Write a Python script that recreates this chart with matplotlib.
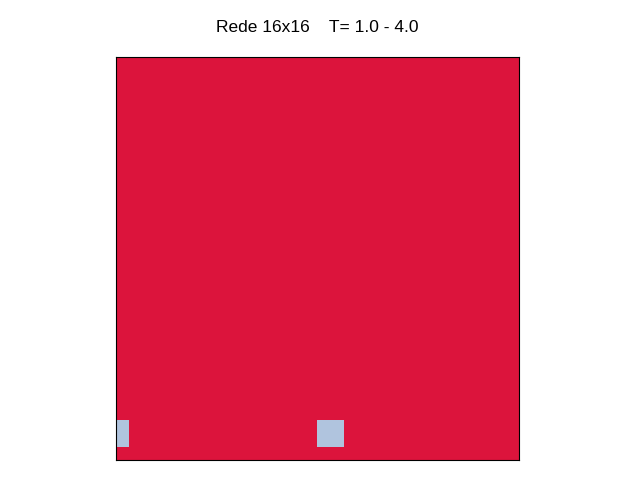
import numpy as np
import matplotlib
matplotlib.use("Agg")
import matplotlib.pyplot as plt
from matplotlib.colors import ListedColormap

N = 16
# spin configuration: +1 (crimson) everywhere except two down spins
down_rows = [1, 1]
down_cols = [0, 8]

spins = np.ones((N, N))
for r, c in zip(down_rows, down_cols):
    spins[r, c] = -1

fig = plt.figure(figsize=(6.4, 4.8), dpi=100)
ax = fig.add_axes([116 / 640, 20 / 480, 403 / 640, 403 / 480])
cmap = ListedColormap(["lightsteelblue", "crimson"])
ax.imshow(spins, cmap=cmap, vmin=-1, vmax=1, origin="lower",
          interpolation="nearest", aspect="auto")
ax.set_xlim(0, N - 1)
ax.set_ylim(0, N - 1)
ax.set_xticks([])
ax.set_yticks([])
fig.text(317.5 / 640, 1 - 28 / 480, "Rede 16x16    T= 1.0 - 4.0",
         ha="center", va="center", fontsize=12.5, family="Liberation Sans")
fig.savefig("out.png")
